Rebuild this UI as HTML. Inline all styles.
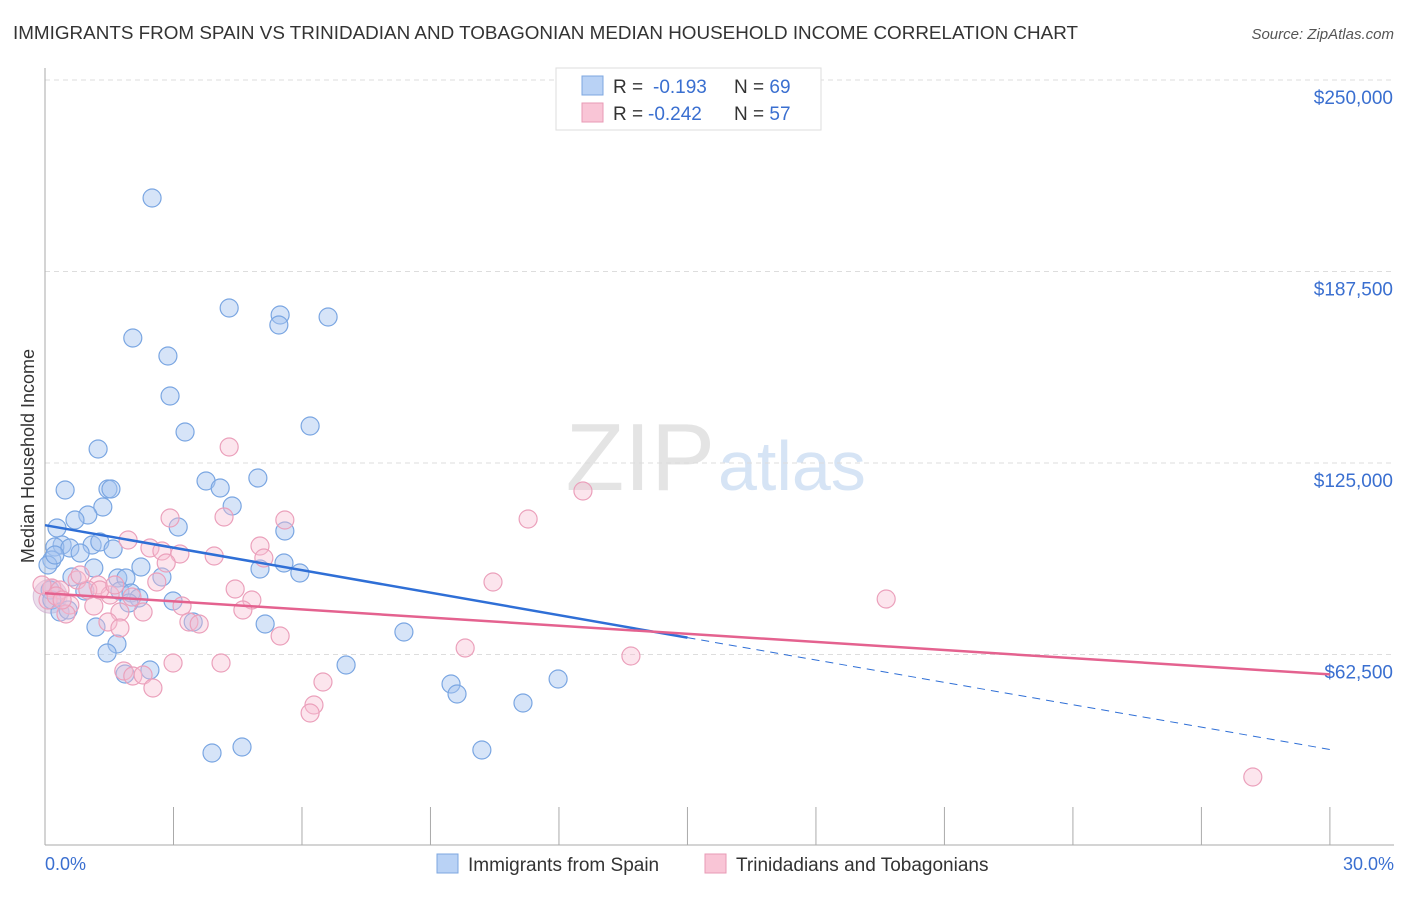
<!DOCTYPE html>
<html><head><meta charset="utf-8"><style>
body{margin:0;background:#fff;font-family:"Liberation Sans",sans-serif;}
svg text{font-family:"Liberation Sans",sans-serif;}
</style></head><body>
<svg id="chart" width="1406" height="892" xmlns="http://www.w3.org/2000/svg">
<text x="13" y="39" font-size="18.5" fill="#333" textLength="1065" lengthAdjust="spacingAndGlyphs">IMMIGRANTS FROM SPAIN VS TRINIDADIAN AND TOBAGONIAN MEDIAN HOUSEHOLD INCOME CORRELATION CHART</text>
<text x="1394" y="39" font-size="15" fill="#555" text-anchor="end" font-style="italic">Source: ZipAtlas.com</text>
<text x="715" y="490" font-size="96" fill="#e4e4e4" text-anchor="end" font-family="Liberation Serif">ZIP</text>
<text x="718" y="490" font-size="70" fill="#d6e4f5">atlas</text>
<g id="grid"></g>
<g id="axes"></g>
<g id="pts"></g>
<g id="lines"></g>
<text transform="translate(34,456) rotate(-90)" font-size="18" fill="#333" text-anchor="middle">Median Household Income</text>
<text x="45" y="870" font-size="18" fill="#3a6fd0">0.0%</text>
<text x="1394" y="870" font-size="18" fill="#3a6fd0" text-anchor="end">30.0%</text>
<g>
<rect x="556" y="68" width="265" height="62" fill="#fff" stroke="#ddd"/>
<rect x="582" y="76" width="21" height="19" fill="#b9d2f5" stroke="#7da7e0"/>
<rect x="582" y="103" width="21" height="19" fill="#f9c5d6" stroke="#e89ab5"/>
<text x="613" y="93" font-size="19" fill="#333">R = <tspan x="653" fill="#3a6fd0">-0.193</tspan><tspan x="734">N = </tspan><tspan fill="#3a6fd0">69</tspan></text>
<text x="613" y="120" font-size="19" fill="#333">R = <tspan x="648" fill="#3a6fd0">-0.242</tspan><tspan x="734">N = </tspan><tspan fill="#3a6fd0">57</tspan></text>
</g>
<g>
<rect x="437" y="854" width="21" height="19" fill="#b9d2f5" stroke="#7da7e0"/>
<text x="468" y="871" font-size="19" fill="#333">Immigrants from Spain</text>
<rect x="705" y="854" width="21" height="19" fill="#f9c5d6" stroke="#e89ab5"/>
<text x="736" y="871" font-size="19" fill="#333">Trinidadians and Tobagonians</text>
</g>
</svg>
<script>
const yTicks=[250000,187500,125000,62500];
const yTickLabels=["$250,000","$187,500","$125,000","$62,500"];
const xTicks=[0,3,6,9,12,15,18,21,24,27,30];
function midx(p){return Math.round((p-45)/42.83*100)/100;}
function midy(p){return Math.round(250000-(p-80)/191.5*62500);}
const blueX=[152,229,280,279,328,133,168,170,185,310,98,65,108,111,206,220,258,232,103,88,75,178,57,285,62,55,70,92,100,113,80,52,48,260,284,300,141,94,118,126,162,72,85,120,131,139,129,173,50,96,193,265,404,117,107,346,150,125,451,457,558,523,242,212,482,52,60,68,55].map(midx);
const blueY=[198,308,315,325,317,338,356,396,432,426,449,490,489,489,481,488,478,506,507,515,520,527,528,531,545,547,548,545,542,549,553,560,565,569,563,573,567,568,578,578,577,577,591,591,593,598,603,601,590,627,622,624,632,644,653,665,670,674,684,694,679,703,747,753,750,600,612,610,555].map(midy);
const pinkX=[229,583,528,170,224,285,128,150,162,180,214,260,264,166,493,77,98,52,60,88,110,132,157,235,252,886,70,94,120,143,182,66,243,189,108,199,120,280,465,631,173,221,124,133,143,153,323,314,310,1253,48,56,80,100,42,62,115].map(midx);
const pinkY=[447,491,519,518,517,520,540,548,551,554,556,546,558,563,582,580,585,588,590,590,595,597,582,589,600,599,605,606,612,612,606,614,610,622,622,624,628,636,648,656,663,663,671,676,675,688,682,705,713,777,600,596,575,590,585,600,585].map(midy);
const blueTrend=[[0,104700],[15,68000],[30,31500]];
const pinkTrend=[[0,82500],[30,56000]];
function X(v){return 45+v*42.83;}
function Y(v){return 80+(250000-v)/62500*191.5;}
const NS="http://www.w3.org/2000/svg";
function mk(tag,attrs,parent){const e=document.createElementNS(NS,tag);for(const k in attrs)e.setAttribute(k,attrs[k]);parent.appendChild(e);return e;}
const grid=document.getElementById('grid'),axes=document.getElementById('axes'),pts=document.getElementById('pts'),lines=document.getElementById('lines');
yTicks.forEach((t,i)=>{
 const l=mk('line',{x1:45,x2:1394,y1:Y(t),y2:Y(t),stroke:'#ddd','stroke-dasharray':'5,4'},grid);
 
 
 const tx=mk('text',{x:1393,y:Y(t)+24,'font-size':19,fill:'#3a6fd0','text-anchor':'end'},grid);
 tx.textContent=yTickLabels[i];
 
 
});
const ya=mk('line',{x1:45,x2:45,y1:68,y2:845,stroke:'#aaa'},axes);


const xa=mk('line',{x1:45,x2:1394,y1:845,y2:845,stroke:'#aaa'},axes);


xTicks.forEach(t=>{
 const l=mk('line',{x1:X(t),x2:X(t),y1:807,y2:845,stroke:'#aaa'},axes);
 
 
});
const big=mk('circle',{cx:X(0.12),cy:Y(81500),r:17,fill:'rgba(210,180,210,0.45)',stroke:'rgba(200,160,200,0.6)'},pts);


blueX.forEach((x,i)=>{
 const c=mk('circle',{cx:X(x),cy:Y(blueY[i]),r:9,fill:'rgba(164,196,240,0.45)',stroke:'#7aa6e2','stroke-width':1.2},pts);
 
 
});
pinkX.forEach((x,i)=>{
 const c=mk('circle',{cx:X(x),cy:Y(pinkY[i]),r:9,fill:'rgba(248,190,210,0.4)',stroke:'#eba0bb','stroke-width':1.2},pts);
 
 
});
const bl=mk('line',{x1:X(blueTrend[0][0]),y1:Y(blueTrend[0][1]),x2:X(blueTrend[1][0]),y2:Y(blueTrend[1][1]),stroke:'#2f6fd6','stroke-width':2.5},lines);


const bd=mk('line',{x1:X(blueTrend[1][0]),y1:Y(blueTrend[1][1]),x2:X(blueTrend[2][0]),y2:Y(blueTrend[2][1]),stroke:'#2f6fd6','stroke-width':1,'stroke-dasharray':'8,6'},lines);


const pl=mk('line',{x1:X(pinkTrend[0][0]),y1:Y(pinkTrend[0][1]),x2:X(pinkTrend[1][0]),y2:Y(pinkTrend[1][1]),stroke:'#e4628f','stroke-width':2.5},lines);


</script>
</body></html>
